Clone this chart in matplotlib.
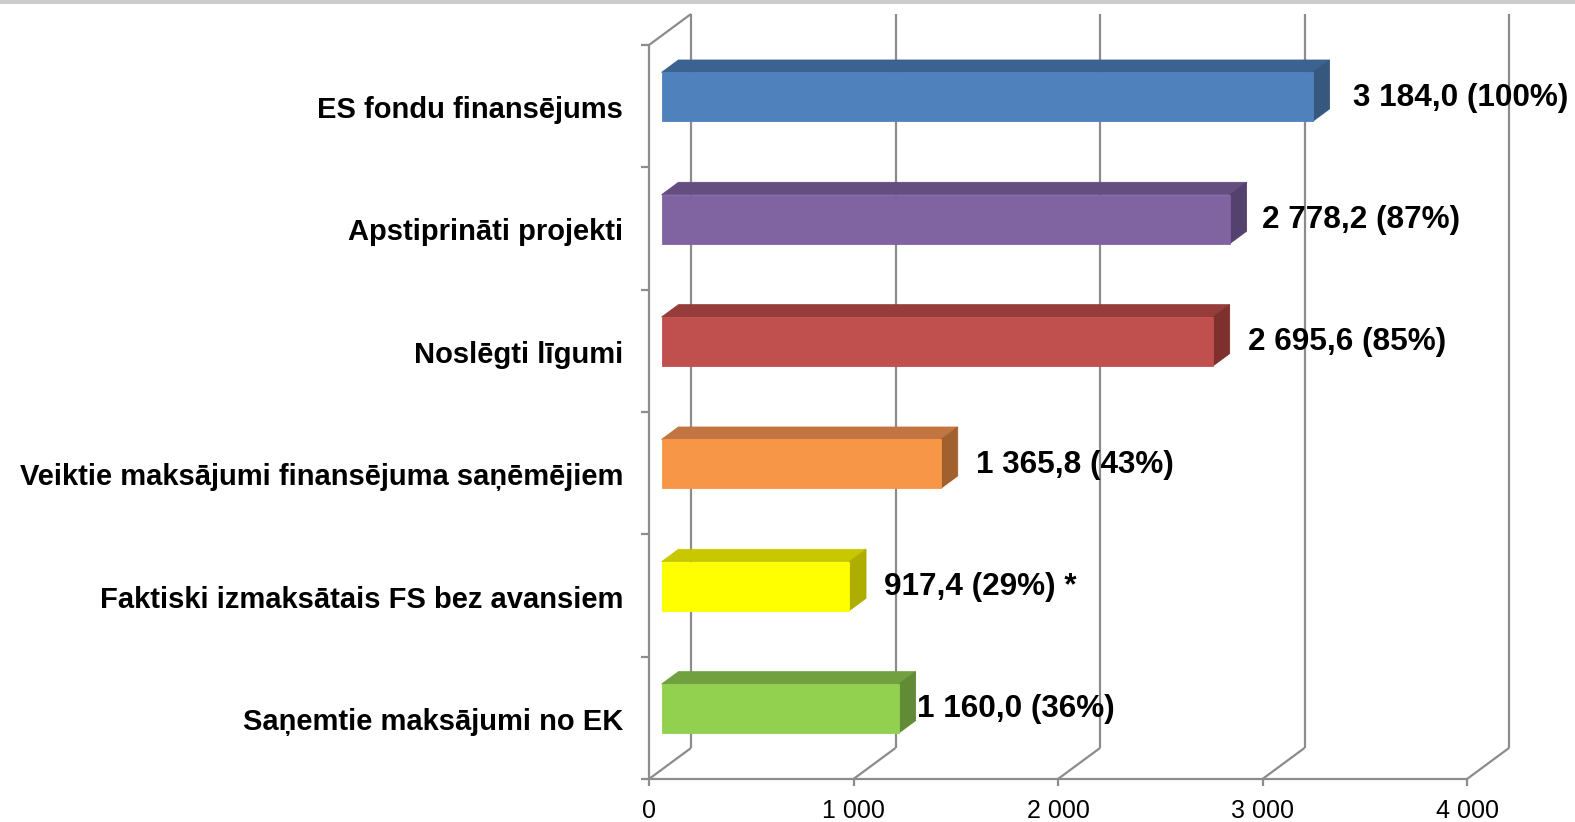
import matplotlib
matplotlib.use("Agg")
import matplotlib.pyplot as plt
from matplotlib.patches import Polygon
from matplotlib.lines import Line2D
from matplotlib.transforms import IdentityTransform

# ---------------- data ----------------
categories = [
    "ES fondu finansējums",
    "Apstiprināti projekti",
    "Noslēgti līgumi",
    "Veiktie maksājumi finansējuma saņēmējiem",
    "Faktiski izmaksātais FS bez avansiem",
    "Saņemtie maksājumi no EK",
]
values = [3184.0, 2778.2, 2695.6, 1365.8, 917.4, 1160.0]
value_labels = [
    "3 184,0 (100%)",
    "2 778,2 (87%)",
    "2 695,6 (85%)",
    "1 365,8 (43%)",
    "917,4 (29%) *",
    "1 160,0 (36%)",
]
x_ticks = [0, 1000, 2000, 3000, 4000]
x_tick_labels = ["0", "1 000", "2 000", "3 000", "4 000"]

# ---------------- styles ----------------
front_colors = ["#4F81BD", "#8064A2", "#C0504D", "#F79646", "#FFFF00", "#92D050"]
top_colors = ["#3C6292", "#644E80", "#963D3B", "#C27540", "#C8C800", "#71A03E"]
side_colors = ["#36587F", "#54416E", "#7E302F", "#A0612F", "#AEAE00", "#618B35"]
label_gaps = [32, 24, 27, 27, 26, 10]   # px gap between bar and value label

W, H, DPI = 1575, 822, 100
fig = plt.figure(figsize=(W / DPI, H / DPI), dpi=DPI)
fig.patch.set_facecolor("white")

# front plane of the 3D box in pixels
x0_px, x1_px = 649, 1467
ytop_px, ybot_px = 45, 779
ax = fig.add_axes([x0_px / W, 1 - ybot_px / H, (x1_px - x0_px) / W, (ybot_px - ytop_px) / H])
ax.set_xlim(0, 4000)
ax.set_ylim(len(categories), 0)
ax.axis("off")

DX, DY = 42, 31          # depth offset of back wall (px)
ident = IdentityTransform()
grid_c = "#8C8C8C"

fig.canvas.draw()


def P(x, y, d=0.0):
    px, py = ax.transData.transform((x, y))
    return (px + DX * d, py + DY * d)


def line(p, q, **kw):
    fig.add_artist(Line2D([p[0], q[0]], [p[1], q[1]], transform=ident,
                          color=grid_c, lw=1.6, solid_capstyle="butt", **kw))


n = len(categories)
# top gray band
fig.add_artist(plt.Rectangle((0, 1 - 4.5 / H), 1, 4.5 / H, transform=fig.transFigure,
                             color="#CCCCCC", lw=0))

# back wall gridlines and floor diagonals
for t in x_ticks:
    line(P(t, n, 1), P(t, 0, 1))
    line(P(t, n, 0), P(t, n, 1))
# left wall front edge, top diagonal
line(P(0, 0, 0), P(0, n, 0))
line(P(0, 0, 0), P(0, 0, 1))
# front floor edge
line(P(0, n, 0), P(4000, n, 0))
# left ticks
for k in range(n + 1):
    p = P(0, k, 0)
    line((p[0] - 8, p[1]), p)
# bottom ticks and labels
for t, lab in zip(x_ticks, x_tick_labels):
    p = P(t, n, 0)
    line(p, (p[0], p[1] - 7))
    fig.text(p[0] / W, (p[1] - 32) / H, lab, ha="center", va="center",
             fontsize=18, family="Liberation Sans", color="#000000")

# bars
h = 0.2
d0, d1 = 0.3, 0.7
for i, (v, fc, tc, sc) in enumerate(zip(values, front_colors, top_colors, side_colors)):
    yc = i + 0.5
    yt, yb = yc - h, yc + h
    front = [P(0, yt, d0), P(v, yt, d0), P(v, yb, d0), P(0, yb, d0)]
    top = [P(0, yt, d0), P(0, yt, d1), P(v, yt, d1), P(v, yt, d0)]
    side = [P(v, yt, d0), P(v, yt, d1), P(v, yb, d1), P(v, yb, d0)]
    for poly, col in ((top, tc), (side, sc), (front, fc)):
        fig.add_artist(Polygon(poly, closed=True, transform=ident, facecolor=col,
                               edgecolor=col, lw=0.6, zorder=3))
    # value label
    px, py = P(v, yc, 0.5)
    fig.text((px + label_gaps[i]) / W, (P(v, yc, 0.4)[1] - 4) / H, value_labels[i],
             ha="left", va="center", fontsize=22.7, fontweight="bold",
             family="Liberation Sans", color="#000000", zorder=5)
    # category label
    cx, cy = P(0, yc, 0)
    fig.text((cx - 26) / W, (cy - 4) / H, categories[i], ha="right", va="center",
             fontsize=21, fontweight="bold", family="Liberation Sans", color="#000000")

fig.savefig("out.png", dpi=DPI)
